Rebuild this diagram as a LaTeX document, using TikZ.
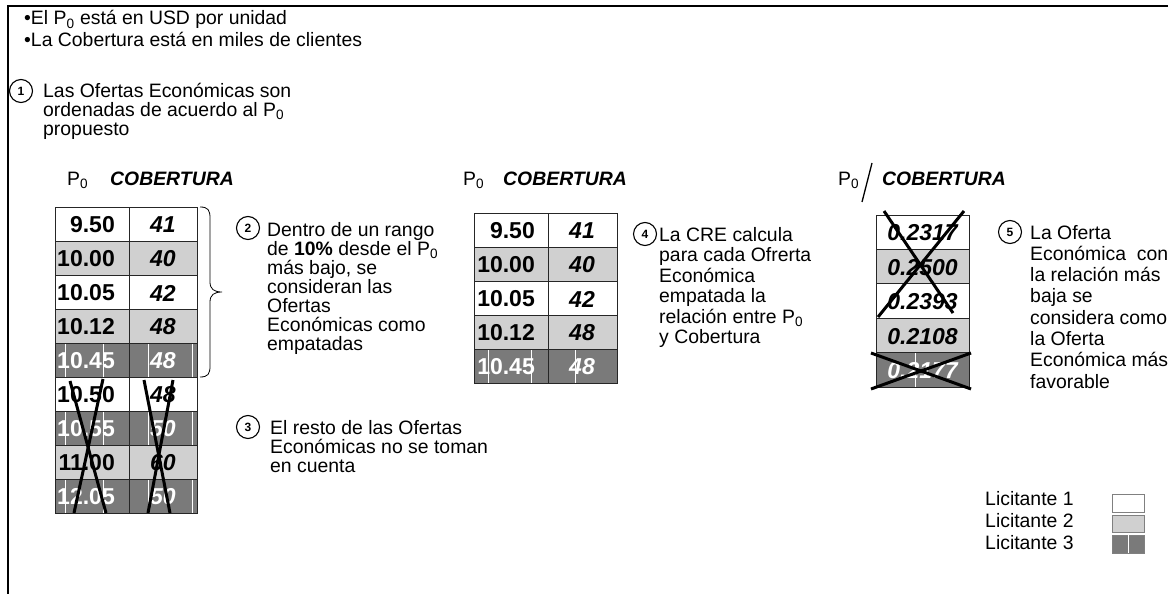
\documentclass[tikz,border=0pt]{standalone}
\usepackage{fontspec}
\setmainfont{Liberation Sans}
\definecolor{lic2}{RGB}{208,208,208}
\definecolor{lic3}{RGB}{122,122,122}
\colorlet{lic1}{white}
\colorlet{tc1}{black}\colorlet{tc2}{black}\colorlet{tc3}{white}
\newcommand\myblock[2]{\parbox[t]{330pt}{\fontsize{19.4}{#1}\selectfont\raggedright #2}}
\begin{document}
\begin{tikzpicture}[x=1pt,y=-1pt,
  txt/.style={inner sep=0pt, anchor=base west, font=\fontsize{19.4}{19}\selectfont},
  hdr/.style={txt, font=\fontsize{19.4}{19}\selectfont\bfseries\itshape},
  num/.style={circle, draw, line width=1.1pt, minimum size=23pt, inner sep=0pt, font=\fontsize{12}{12}\selectfont\bfseries},
  pcell/.style={inner sep=0pt, font=\fontsize{23}{23}\selectfont\bfseries},
  ccell/.style={inner sep=0pt, font=\fontsize{23}{23}\selectfont\bfseries\itshape},
  tgrid/.style={line width=0.8pt, draw=black!85},
  xline/.style={line width=3pt, black},
  wl/.style={white, line width=1pt}]
\useasboundingbox (0,0) rectangle (1172,594);
\draw[line width=1.5pt] (1168,6) -- (8,6) -- (8,594);

% bullets
\node[txt] (b1) at (24,25) {\textbullet El P\textsubscript{0} está en USD por unidad};
\node[txt] (b2) at (24,47) {\textbullet La Cobertura está en miles de clientes};

% step 1
\node[num] (n1) at (21,91) {1};
\node[txt] (t1) at (43,97) {\myblock{19}{Las Ofertas Económicas son\\ordenadas de acuerdo al P\textsubscript{0}\\propuesto}};

% headers
\node[txt] (h1p) at (67,185) {P\textsubscript{0}};
\node[hdr] (h1c) at (110,185) {COBERTURA};
\node[txt] (h2p) at (463,185) {P\textsubscript{0}};
\node[hdr] (h2c) at (503,185) {COBERTURA};
\node[txt] (h3p) at (838,185) {P\textsubscript{0}};
\node[hdr] (h3c) at (882,185) {COBERTURA};
\draw[line width=1.3pt] (862,202) -- (872,163);

% left table
\foreach \p/\c/\t [count=\i from 0] in {9.50/41/1,10.00/40/2,10.05/42/1,10.12/48/2,10.45/48/3,10.50/48/1,10.55/50/3,11.00/60/2,12.05/50/3}{
  \pgfmathsetmacro\yt{207+34*\i}
  \fill[lic\t] (55,\yt) rectangle (197,\yt+34);
  \ifnum\t=3 \foreach \xx in {65,103,148,192}{\draw[wl] (\xx,\yt) -- (\xx,\yt+34);}\fi
  \draw[tgrid] (55,\yt) -- (197,\yt);
  \node[pcell, text=tc\t, anchor=east] (LP\i) at (115,\yt+18) {\p};
  \node[ccell, text=tc\t] (LC\i) at (163,\yt+18) {\c};
}
\draw[tgrid] (55,207) rectangle (197,513);
\draw[tgrid] (129,207) -- (129,513);
\draw[xline] (70,381) -- (106,513);
\draw[xline] (103,379) -- (74,513);
\draw[xline] (144,380) -- (170,513);
\draw[xline] (173,380) -- (148,513);

% brace
\draw[line width=0.8pt] (200,207) .. controls (208,207) and (210,210) .. (210,218) -- (210,282)
  .. controls (210,289) and (214,292) .. (222,292) .. controls (214,292) and (210,295) .. (210,302)
  -- (210,366) .. controls (210,374) and (208,377) .. (200,377);

% step 2, 3
\node[num] (n2) at (248,228) {2};
\node[txt] (t2) at (267,236) {\myblock{19}{Dentro de un rango\\de \textbf{10\%} desde el P\textsubscript{0}\\más bajo, se\\consideran las\\Ofertas\\Económicas como\\empatadas}};
\node[num] (n3) at (248,427) {3};
\node[txt] (t3) at (270,434) {\myblock{19}{El resto de las Ofertas\\Económicas no se toman\\en cuenta}};

% middle table
\foreach \p/\c/\t [count=\i from 0] in {9.50/41/1,10.00/40/2,10.05/42/1,10.12/48/2,10.45/48/3}{
  \pgfmathsetmacro\yt{213+34*\i}
  \fill[lic\t] (474,\yt) rectangle (617,\yt+34);
  \ifnum\t=3 \foreach \xx in {488,531,575}{\draw[wl] (\xx,\yt) -- (\xx,\yt+34);}\fi
  \draw[tgrid] (474,\yt) -- (617,\yt);
  \node[pcell, text=tc\t, anchor=east] (MP\i) at (535,\yt+18) {\p};
  \node[ccell, text=tc\t] (MC\i) at (582,\yt+18) {\c};
}
\draw[tgrid] (474,213) rectangle (617,383);
\draw[tgrid] (548,213) -- (548,383);

% step 4
\node[num] (n4) at (645,234) {4};
\node[txt] (t4) at (659,241) {\myblock{20.5}{La CRE calcula\\para cada Ofrerta\\Económica\\empatada la\\relación entre P\textsubscript{0}\\y Cobertura}};

% right table
\foreach \c/\t [count=\i from 0] in {0.2317/1,0.2500/2,0.2393/1,0.2108/2,0.2177/3}{
  \pgfmathsetmacro\yt{215+34.4*\i}
  \fill[lic\t] (876,\yt) rectangle (969,\yt+34.4);
  \ifnum\t=3 \draw[wl] (915,\yt) -- (915,\yt+34.4);\fi
  \draw[tgrid] (876,\yt) -- (969,\yt);
  \node[ccell, text=tc\t] (RC\i) at (922.5,\yt+18) {\c};
}
\draw[tgrid] (876,215) rectangle (969,387);
\draw[xline] (884,211) -- (953,313);
\draw[xline] (964,211) -- (878,317);
\draw[xline] (871,353) -- (971,389);
\draw[xline] (971,353) -- (871,389);

% step 5
\node[num] (n5) at (1010,232) {5};
\node[txt] (t5) at (1030,239) {\myblock{21.3}{La Oferta\\Económica\ \ con\\la relación más\\baja se\\considera como\\la Oferta\\Económica más\\favorable}};

% legend
\node[txt] (lg1) at (985,505) {Licitante 1};
\node[txt] (lg2) at (985,527) {Licitante 2};
\node[txt] (lg3) at (985,549) {Licitante 3};
\draw[gray, line width=0.8pt, fill=white] (1112,494) rectangle (1144,512);
\draw[gray, line width=0.8pt, fill=lic2] (1112,515) rectangle (1144,532);
\draw[gray, line width=0.8pt, fill=lic3] (1112,535) rectangle (1144,553);
\draw[wl] (1128,535) -- (1128,553);
\end{tikzpicture}
\end{document}
